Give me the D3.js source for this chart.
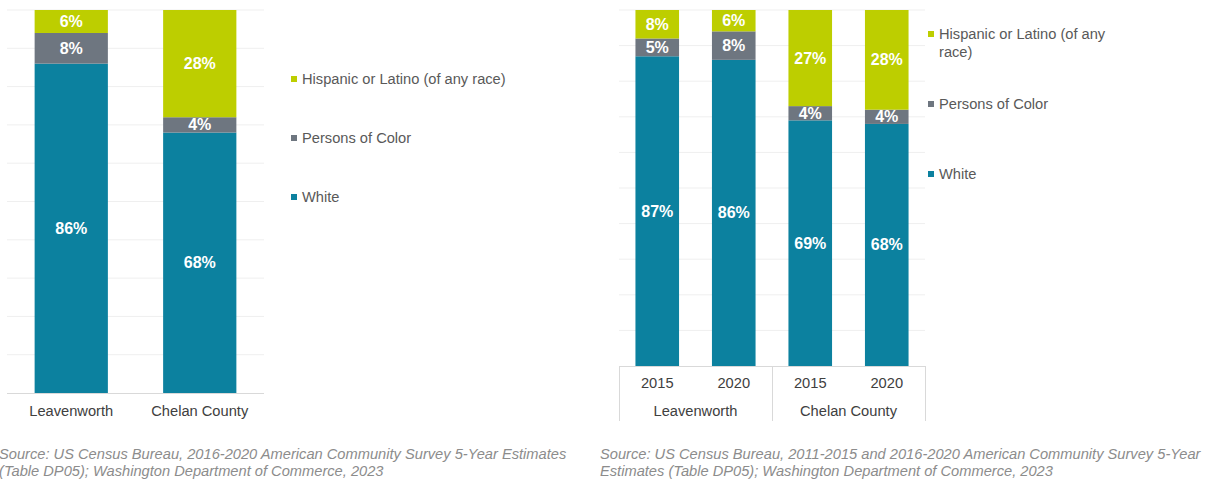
<!DOCTYPE html>
<html>
<head>
<meta charset="utf-8">
<script src="https://cdn.jsdelivr.net/npm/d3@7"></script>
<style>
  html, body { margin: 0; padding: 0; background: #fff; }
  svg { display: block; font-family: "Liberation Sans", Arial, sans-serif; }
</style>
</head>
<body>
<svg id="chart" width="1215" height="482"></svg>
<script>
// Series shared by both panels (stack order: bottom to top)
const seriesKeys = ["white", "poc", "hispanic"];
const seriesNames = {
  hispanic: "Hispanic or Latino (of any race)",
  poc: "Persons of Color",
  white: "White"
};
const seriesColors = { white: "#0c819f", poc: "#6e7680", hispanic: "#bdce00" };
const legendOrder = ["hispanic", "poc", "white"];

// Left panel: 2016-2020
const leftCategories = ["Leavenworth", "Chelan County"];
const leftWhite = [86, 68];
const leftPOC = [8, 4];
const leftHispanic = [6, 28];

// Right panel: 2015 vs 2020
const rightGroups = ["Leavenworth", "Leavenworth", "Chelan County", "Chelan County"];
const rightYears = ["2015", "2020", "2015", "2020"];
const rightWhite = [87, 86, 69, 68];
const rightPOC = [5, 8, 4, 4];
const rightHispanic = [8, 6, 27, 28];

const yTicks = [0, 10, 20, 30, 40, 50, 60, 70, 80, 90, 100];

const leftSource = [
  "Source: US Census Bureau, 2016-2020 American Community Survey 5-Year Estimates",
  "(Table DP05); Washington Department of Commerce, 2023"
];
const rightSource = [
  "Source: US Census Bureau, 2011-2015 and 2016-2020 American Community Survey 5-Year",
  "Estimates (Table DP05); Washington Department of Commerce, 2023"
];

const FS = 14.67;
const svg = d3.select("#chart");

function buildRows(keys, white, poc, hisp) {
  return keys.map((k, i) => ({ key: k, white: white[i], poc: poc[i], hispanic: hisp[i] }));
}

function drawPanel(opts) {
  const { rows, x0, x1, yTop, yBottom, padding, legendX, legendY, legendWrap } = opts;
  const g = svg.append("g");
  const x = d3.scaleBand().domain(rows.map(r => r.key)).range([x0, x1]).paddingInner(padding).paddingOuter(padding / 2);
  const y = d3.scaleLinear().domain([0, 100]).range([yBottom, yTop]);

  // horizontal gridlines
  g.append("g").selectAll("line").data(yTicks.filter(t => t > 0)).join("line")
    .attr("x1", x0).attr("x2", x1)
    .attr("y1", d => y(d)).attr("y2", d => y(d))
    .attr("stroke", "#efefef").attr("stroke-width", 1);

  const stacked = d3.stack().keys(seriesKeys)(rows);
  const layers = g.append("g").selectAll("g").data(stacked).join("g")
    .attr("fill", d => seriesColors[d.key]);
  layers.selectAll("rect").data(d => d).join("rect")
    .attr("x", d => x(d.data.key))
    .attr("width", x.bandwidth())
    .attr("y", d => y(d[1]))
    .attr("height", d => y(d[0]) - y(d[1]));

  // value labels centred in each segment
  const labels = g.append("g").selectAll("g").data(stacked).join("g");
  labels.selectAll("text").data(d => d.map(v => ({ v, key: d.key }))).join("text")
    .attr("x", d => x(d.v.data.key) + x.bandwidth() / 2)
    .attr("y", d => (y(d.v[0]) + y(d.v[1])) / 2)
    .attr("text-anchor", "middle")
    .attr("dominant-baseline", "central")
    .attr("fill", "#fff")
    .attr("font-weight", "bold")
    .attr("font-size", 16)
    .text(d => d.v.data[d.key] + "%");

  // baseline
  g.append("line").attr("x1", x0).attr("x2", x1)
    .attr("y1", yBottom + 0.5).attr("y2", yBottom + 0.5)
    .attr("stroke", "#d9d9d9");

  // legend
  const lg = g.append("g");
  legendOrder.forEach((k, i) => {
    const ly = legendY[i];
    lg.append("rect").attr("x", legendX).attr("y", ly - 3).attr("width", 6).attr("height", 6)
      .attr("fill", seriesColors[k]);
    const t = lg.append("text").attr("x", legendX + 11).attr("y", ly)
      .attr("dominant-baseline", "central").attr("font-size", FS).attr("fill", "#595959");
    if (legendWrap) {
      const words = seriesNames[k].split(" ");
      let line = [];
      let tspan = t.append("tspan").attr("x", legendX + 11).attr("dy", 0);
      words.forEach(w => {
        line.push(w);
        tspan.text(line.join(" "));
        if (tspan.node().getComputedTextLength() > legendWrap && line.length > 1) {
          line.pop();
          tspan.text(line.join(" "));
          line = [w];
          tspan = t.append("tspan").attr("x", legendX + 11).attr("dy", 18).text(w);
        }
      });
    } else {
      t.text(seriesNames[k]);
    }
  });
  return { g, x, y };
}

// Left panel
const left = drawPanel({
  rows: buildRows(leftCategories, leftWhite, leftPOC, leftHispanic),
  x0: 7, x1: 264, yTop: 10, yBottom: 393, padding: 0.43,
  legendX: 291, legendY: [79, 138, 197], legendWrap: null
});
left.g.append("g").selectAll("text").data(leftCategories).join("text")
  .attr("x", d => left.x(d) + left.x.bandwidth() / 2)
  .attr("y", 411).attr("text-anchor", "middle").attr("dominant-baseline", "central")
  .attr("font-size", FS).attr("fill", "#404040").text(d => d);

// Right panel: keys combine group and year
const rightKeys = rightGroups.map((gname, i) => gname + " " + rightYears[i]);
const right = drawPanel({
  rows: buildRows(rightKeys, rightWhite, rightPOC, rightHispanic),
  x0: 619, x1: 925, yTop: 10, yBottom: 366, padding: 0.43,
  legendX: 928, legendY: [34, 104, 174], legendWrap: 180
});
right.g.append("g").selectAll("text").data(rightKeys).join("text")
  .attr("x", d => right.x(d) + right.x.bandwidth() / 2)
  .attr("y", 383).attr("text-anchor", "middle").attr("dominant-baseline", "central")
  .attr("font-size", FS).attr("fill", "#404040").text((d, i) => rightYears[i]);

// group separators and group labels
const groupNames = Array.from(new Set(rightGroups));
const step = right.x.step();
const groupEdges = [619];
groupNames.forEach(gn => {
  const members = rightKeys.filter((k, i) => rightGroups[i] === gn);
  const start = right.x(members[0]) - (step - right.x.bandwidth()) / 2;
  const end = start + step * members.length;
  groupEdges.push(end);
  right.g.append("text")
    .attr("x", (start + end) / 2).attr("y", 411)
    .attr("text-anchor", "middle").attr("dominant-baseline", "central")
    .attr("font-size", FS).attr("fill", "#404040").text(gn);
});
right.g.append("g").selectAll("line").data(groupEdges).join("line")
  .attr("x1", d => Math.round(d) + 0.5).attr("x2", d => Math.round(d) + 0.5)
  .attr("y1", 366).attr("y2", 421)
  .attr("stroke", "#d9d9d9");

// Source notes
function drawSource(lines, x) {
  svg.append("g").selectAll("text").data(lines).join("text")
    .attr("x", x).attr("y", (d, i) => 454 + i * 17)
    .attr("dominant-baseline", "central")
    .attr("font-style", "italic").attr("font-size", FS).attr("fill", "#8c8c8c")
    .text(d => d);
}
drawSource(leftSource, -1);
drawSource(rightSource, 600);
</script>
</body>
</html>
